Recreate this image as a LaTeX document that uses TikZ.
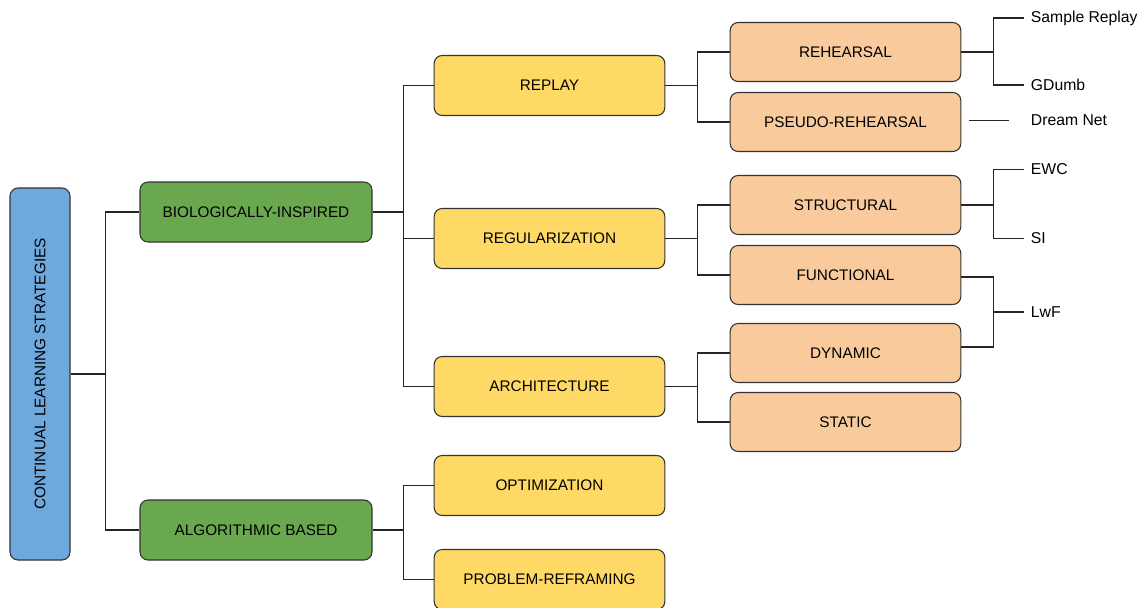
\documentclass[tikz,border=0pt]{standalone}
\usepackage{fontspec}
\setmainfont{Liberation Sans}
\definecolor{cblue}{HTML}{6FA8DC}
\definecolor{cgreen}{HTML}{6AA84F}
\definecolor{cyellow}{HTML}{FFD966}
\definecolor{corange}{HTML}{F9CB9C}
\definecolor{cborder}{HTML}{333333}
\tikzset{
  basebox/.style={draw=cborder, line width=0.8pt, rounded corners=6pt, align=center,
    font=\fontsize{11.5}{13}\selectfont, text=black, inner sep=0pt},
  rootbox/.style={basebox, fill=cblue, minimum width=45pt, minimum height=279pt},
  greenbox/.style={basebox, fill=cgreen, minimum width=174pt, minimum height=45pt},
  yellowbox/.style={basebox, fill=cyellow, minimum width=173pt, minimum height=45pt},
  orangebox/.style={basebox, fill=corange, minimum width=173pt, minimum height=44.25pt},
  leaf/.style={anchor=west, inner sep=5pt, font=\fontsize{11.8}{14}\selectfont},
  conn/.style={draw=black!85, line width=1pt}
}
\begin{document}
\begin{tikzpicture}[x=0.75pt, y=-0.75pt]
\useasboundingbox (0,0) rectangle (1146,607);
% boxes
\node[rootbox] (root) at (40,374) {\rotatebox{90}{CONTINUAL LEARNING STRATEGIES}};
\node[greenbox] (bio) at (256,212) {BIOLOGICALLY-INSPIRED};
\node[greenbox] (algo) at (256,530) {ALGORITHMIC BASED};
\node[yellowbox] (replay) at (549.5,85.5) {REPLAY};
\node[yellowbox] (reg) at (549.5,238.5) {REGULARIZATION};
\node[yellowbox] (arch) at (549.5,386.5) {ARCHITECTURE};
\node[yellowbox] (opt) at (549.5,485.5) {OPTIMIZATION};
\node[yellowbox] (prob) at (549.5,579.5) {PROBLEM-REFRAMING};
\node[orangebox] (reh) at (845.5,52) {REHEARSAL};
\node[orangebox] (pseudo) at (845.5,122) {PSEUDO-REHEARSAL};
\node[orangebox] (struct) at (845.5,205) {STRUCTURAL};
\node[orangebox] (func) at (845.5,275) {FUNCTIONAL};
\node[orangebox] (dyn) at (845.5,353) {DYNAMIC};
\node[orangebox] (stat) at (845.5,422) {STATIC};
% leaves
\node[leaf] (sample) at (1024,18) {Sample Replay};
\node[leaf] (gdumb) at (1024,85) {GDumb};
\node[leaf] (dream) at (1024,120.5) {Dream Net};
\node[leaf] (ewc) at (1024,169.5) {EWC};
\node[leaf] (si) at (1024,238.5) {SI};
\node[leaf] (lwf) at (1024,312) {LwF};
% connectors
\draw[conn] (root.east) -- ++(35,0) |- (bio.west);
\draw[conn] (root.east) -- ++(35,0) |- (algo.west);
\draw[conn] (bio.east) -- ++(31,0) |- (replay.west);
\draw[conn] (bio.east) -- ++(31,0) |- (reg.west);
\draw[conn] (bio.east) -- ++(31,0) |- (arch.west);
\draw[conn] (algo.east) -- ++(31,0) |- (opt.west);
\draw[conn] (algo.east) -- ++(31,0) |- (prob.west);
\draw[conn] (replay.east) -- ++(32,0) |- (reh.west);
\draw[conn] (replay.east) -- ++(32,0) |- (pseudo.west);
\draw[conn] (reg.east) -- ++(32,0) |- (struct.west);
\draw[conn] (reg.east) -- ++(32,0) |- (func.west);
\draw[conn] (arch.east) -- ++(32,0) |- (dyn.west);
\draw[conn] (arch.east) -- ++(32,0) |- (stat.west);
\draw[conn] (reh.east) -- ++(32,0) |- (sample.west);
\draw[conn] (reh.east) -- ++(32,0) |- (gdumb.west);
\draw[conn, shorten >=11pt, shorten <=6pt] (pseudo.east |- dream.west) -- (dream.west);
\draw[conn] (struct.east) -- ++(32,0) |- (ewc.west);
\draw[conn] (struct.east) -- ++(32,0) |- (si.west);
\draw[conn] ([yshift=-1.5pt]func.east) -- ++(32,0) |- (lwf.west);
\draw[conn] ([yshift=4.5pt]dyn.east) -- ++(32,0) |- (lwf.west);
\end{tikzpicture}
\end{document}
